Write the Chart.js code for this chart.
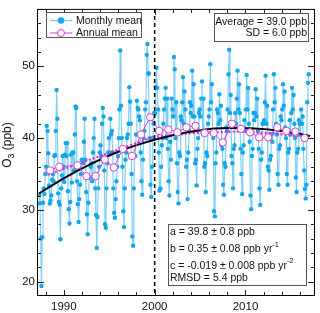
<!DOCTYPE html>
<html>
<head>
<meta charset="utf-8">
<script src="https://cdn.jsdelivr.net/npm/chart.js@4/dist/chart.umd.min.js"></script>
<style>
html, body { margin: 0; padding: 0; background: #fff; }
#grafico { display: block; }
</style>
</head>
<body>
<canvas id="grafico" width="320" height="313"></canvas>
<script>
// Medias mensuales de O3 (ppb), desde abril de 1987 hasta diciembre de 2016
const o3Mensual = [
    /*1987*/ 32.1, 30.9, 26.0, 19.4, 26.2, 31.0, 33.0, 32.2, 35.0,
    /*1988*/ 36.0, 41.7, 41.0, 37.9, 33.4, 30.9, 31.3, 32.0, 34.2, 35.0, 34.0, 37.5,
    /*1989*/ 37.6, 41.0, 46.7, 42.7, 32.3, 31.1, 30.7, 25.9, 33.0, 34.8, 37.5, 36.0,
    /*1990*/ 33.9, 37.7, 39.3, 37.5, 39.3, 32.6, 30.1, 28.1, 31.1, 37.7, 33.8, 38.0,
    /*1991*/ 38.0, 35.5, 40.5, 44.4, 44.2, 34.0, 30.8, 28.3, 31.5, 33.5, 35.0, 37.0,
    /*1992*/ 37.0, 36.5, 39.5, 42.7, 37.0, 32.5, 29.4, 26.6, 31.0, 34.5, 34.5, 36.0,
    /*1993*/ 36.5, 34.0, 38.0, 40.0, 42.7, 33.0, 29.3, 24.7, 29.0, 33.0, 36.0, 38.0,
    /*1994*/ 39.0, 37.5, 42.0, 44.2, 43.0, 35.5, 28.0, 27.5, 33.0, 36.5, 38.0, 40.0,
    /*1995*/ 38.0, 42.7, 40.5, 41.0, 38.0, 33.0, 29.6, 28.9, 31.5, 34.0, 36.0, 37.5,
    /*1996*/ 40.0, 44.0, 52.2, 44.5, 40.0, 36.0, 29.8, 27.6, 33.0, 37.0, 38.0, 40.0,
    /*1997*/ 40.5, 42.0, 47.1, 45.1, 42.0, 35.0, 26.3, 25.0, 33.0, 37.5, 37.5, 40.5,
    /*1998*/ 45.2, 44.2, 44.0, 43.0, 42.5, 38.0, 34.0, 32.1, 37.0, 40.0, 41.0, 44.0,
    /*1999*/ 45.0, 51.6, 53.1, 49.0, 49.0, 40.0, 33.5, 31.8, 36.0, 40.0, 42.0, 43.5,
    /*2000*/ 43.4, 47.1, 49.8, 47.0, 44.0, 38.0, 32.7, 33.0, 36.0, 39.0, 40.0, 42.0,
    /*2001*/ 44.0, 45.5, 47.0, 40.0, 45.5, 38.5, 34.0, 32.0, 39.5, 37.0, 45.5, 44.0,
    /*2002*/ 43.0, 51.3, 49.6, 40.0, 45.0, 36.5, 32.5, 30.9, 38.0, 37.5, 43.0, 42.5,
    /*2003*/ 45.0, 48.5, 42.0, 46.5, 44.0, 36.0, 37.0, 31.5, 38.0, 41.0, 45.0, 43.5,
    /*2004*/ 44.5, 49.4, 43.0, 47.5, 43.0, 36.5, 37.0, 33.4, 38.5, 40.0, 43.5, 44.0,
    /*2005*/ 43.0, 45.5, 47.9, 41.0, 45.5, 36.0, 36.5, 32.5, 38.0, 37.5, 42.0, 43.0,
    /*2006*/ 44.0, 50.3, 45.0, 47.5, 41.0, 40.0, 29.8, 29.1, 36.5, 38.0, 44.0, 43.5,
    /*2007*/ 42.0, 46.1, 42.5, 44.5, 39.0, 38.5, 33.5, 32.1, 36.5, 36.0, 41.5, 41.0,
    /*2008*/ 44.0, 48.9, 52.3, 43.5, 46.0, 37.5, 36.5, 33.0, 38.5, 39.0, 43.5, 42.0,
    /*2009*/ 45.5, 49.4, 44.0, 47.5, 43.5, 38.5, 35.0, 32.2, 38.0, 39.0, 42.5, 41.0,
    /*2010*/ 44.0, 48.8, 44.0, 47.0, 42.0, 39.5, 32.0, 30.1, 37.5, 38.5, 43.5, 42.5,
    /*2011*/ 43.5, 46.8, 43.0, 45.5, 41.0, 38.5, 33.0, 30.7, 37.0, 38.0, 42.0, 42.0,
    /*2012*/ 42.5, 45.0, 48.7, 42.0, 44.5, 36.0, 35.5, 32.8, 37.0, 37.5, 40.5, 39.5,
    /*2013*/ 44.0, 48.9, 45.0, 47.0, 42.0, 40.5, 35.0, 33.5, 38.5, 39.0, 43.0, 42.5,
    /*2014*/ 44.0, 47.5, 44.5, 46.5, 41.5, 40.0, 35.0, 33.5, 38.0, 38.5, 42.5, 40.5,
    /*2015*/ 43.5, 47.0, 44.0, 46.0, 42.0, 40.0, 34.5, 32.5, 38.0, 38.5, 42.5, 42.0,
    /*2016*/ 40.5, 44.0, 42.0, 43.0, 38.5, 35.5, 32.9, 31.6, 33.5, 45.0, 47.7, 48.9
];
const anioInicio = 1987;
const mesInicio = 4;  // abril

// Medias anuales (1990 no aparece en la figura)
const aniosAnual = [1988, 1989, 1991, 1992, 1993, 1994, 1995, 1996, 1997, 1998, 1999, 2000,
    2001, 2002, 2003, 2004, 2005, 2006, 2007, 2008, 2009, 2010, 2011, 2012, 2013, 2014, 2015, 2016];
const o3Anual = [35.5, 36.0, 36.2, 34.7, 34.7, 37.0, 35.9, 38.5, 37.5, 40.5, 42.9, 41.0,
    41.2, 40.8, 41.5, 41.7, 40.7, 40.7, 39.4, 42.0, 41.3, 40.8, 40.1, 40.1, 41.5, 41.0, 40.9, 40.0];

// Curva de ajuste cuadratico (linea negra)
const aniosAjuste = [1987.3, 1990, 1993, 1996, 1999, 2002, 2005, 2008, 2011, 2014, 2017.1];
const o3Ajuste = [32.3, 34.4, 36.4, 38.1, 39.4, 40.4, 41.1, 41.4, 41.35, 41.0, 40.3];

// Linea punteada magenta
const aniosSuave = [1988.2, 2000, 2004, 2009, 2013, 2016.8];
const o3Suave = [34.9, 40.2, 40.7, 40.9, 40.7, 40.1];

// Ejes
const ticksX = [1990, 2000, 2010];
const ticksY = [20, 30, 40, 50];
const lineaVertical = 2000;

const FUENTE = '"Liberation Sans", Arial, Helvetica, sans-serif';
const AZUL = '#15a6ea';
const AZUL_LINEA = 'rgba(40, 175, 240, 0.6)';
const MAGENTA = '#d63fd0';

// Puntos {x, y} a partir de los arrays
const puntosMensual = o3Mensual.map((v, i) => ({ x: anioInicio + (mesInicio - 1 + i + 0.5) / 12, y: v }));
const puntosAnual = aniosAnual.map((a, i) => ({ x: a + 0.5, y: o3Anual[i] }));
const puntosAjuste = aniosAjuste.map((a, i) => ({ x: a, y: o3Ajuste[i] }));
const puntosSuave = aniosSuave.map((a, i) => ({ x: a, y: o3Suave[i] }));

// Texto con sub/superindices: partes = [[texto, tipo], ...]
function textoPartes(ctx, partes, x, y, tam) {
    let cx = x;
    partes.forEach(([t, tipo]) => {
        if (tipo === 'sup') {
            ctx.font = (tam * 0.7) + 'px ' + FUENTE;
            ctx.fillText(t, cx, y - tam * 0.45);
        } else if (tipo === 'sub') {
            ctx.font = (tam * 0.72) + 'px ' + FUENTE;
            ctx.fillText(t, cx, y + tam * 0.3);
        } else {
            ctx.font = tam + 'px ' + FUENTE;
            ctx.fillText(t, cx, y);
        }
        cx += ctx.measureText(t).width;
    });
}

function anchoPartes(ctx, partes, tam) {
    let w = 0;
    partes.forEach(([t, tipo]) => {
        const f = tipo === 'sup' ? tam * 0.7 : (tipo === 'sub' ? tam * 0.72 : tam);
        ctx.font = f + 'px ' + FUENTE;
        w += ctx.measureText(t).width;
    });
    return w;
}

// Marcas hacia dentro, marco, linea discontinua, leyenda y cuadros de texto
const decoraciones = {
    id: 'decoraciones',
    afterDatasetsDraw(chart) {
        const { ctx, chartArea: a, scales: { x, y } } = chart;
        ctx.save();

        // linea vertical discontinua
        const xv = x.getPixelForValue(lineaVertical);
        ctx.strokeStyle = '#000';
        ctx.lineWidth = 1.5;
        ctx.setLineDash([4, 3]);
        ctx.beginPath();
        ctx.moveTo(xv, a.top);
        ctx.lineTo(xv, a.bottom);
        ctx.stroke();
        ctx.setLineDash([]);

        // marcas del eje x (cada 2 anios)
        ctx.lineWidth = 1;
        ctx.strokeStyle = '#222';
        for (let v = 1988; v <= 2016; v += 2) {
            const px = Math.round(x.getPixelForValue(v)) + 0.5;
            const largo = ticksX.includes(v) ? 6 : 4;
            ctx.beginPath();
            ctx.moveTo(px, a.bottom); ctx.lineTo(px, a.bottom - largo);
            ctx.moveTo(px, a.top); ctx.lineTo(px, a.top + largo);
            ctx.stroke();
        }
        // marcas del eje y (cada 2 ppb)
        for (let v = 20; v <= 56; v += 2) {
            const py = Math.round(y.getPixelForValue(v)) + 0.5;
            const largo = ticksY.includes(v) ? 7 : 4;
            ctx.beginPath();
            ctx.moveTo(a.left, py); ctx.lineTo(a.left + largo, py);
            ctx.moveTo(a.right, py); ctx.lineTo(a.right - largo, py);
            ctx.stroke();
        }
        // marco
        ctx.strokeStyle = '#000';
        ctx.strokeRect(a.left + 0.5, a.top + 0.5, a.right - a.left - 1, a.bottom - a.top - 1);

        ctx.textBaseline = 'middle';
        ctx.fillStyle = '#111';

        // leyenda
        ctx.fillStyle = '#fff';
        ctx.fillRect(46.5, 12.5, 95, 25);
        ctx.strokeStyle = '#555';
        ctx.strokeRect(46.5, 12.5, 95, 25);
        ctx.strokeStyle = AZUL_LINEA;
        ctx.lineWidth = 1.5;
        ctx.beginPath(); ctx.moveTo(50, 20.5); ctx.lineTo(72, 20.5); ctx.stroke();
        ctx.fillStyle = AZUL;
        ctx.beginPath(); ctx.arc(61, 20.5, 3.3, 0, Math.PI * 2); ctx.fill();
        ctx.strokeStyle = MAGENTA;
        ctx.lineWidth = 1;
        ctx.beginPath(); ctx.moveTo(50, 33); ctx.lineTo(72, 33); ctx.stroke();
        ctx.fillStyle = '#fff';
        ctx.beginPath(); ctx.arc(61, 33, 3.5, 0, Math.PI * 2); ctx.fill(); ctx.stroke();
        ctx.fillStyle = '#111';
        ctx.font = '10.5px ' + FUENTE;
        ctx.textAlign = 'left';
        ctx.fillText('Monthly mean', 76, 21);
        ctx.fillText('Annual mean', 76, 33.5);

        // cuadro media y desviacion
        ctx.fillStyle = '#fff';
        ctx.fillRect(214.5, 13.5, 94, 28);
        ctx.strokeStyle = '#555';
        ctx.strokeRect(214.5, 13.5, 94, 28);
        ctx.fillStyle = '#111';
        ctx.textAlign = 'right';
        ctx.fillText('Average = 39.0 ppb', 307, 22);
        ctx.fillText('SD = 6.0 ppb', 307, 33.5);

        // cuadro de coeficientes
        ctx.fillStyle = '#fff';
        ctx.fillRect(168.5, 224.5, 138, 61);
        ctx.strokeStyle = '#555';
        ctx.strokeRect(168.5, 224.5, 138, 61);
        ctx.fillStyle = '#111';
        ctx.textAlign = 'left';
        textoPartes(ctx, [['a = 39.8 \u00b1 0.8 ppb', 'n']], 170, 232, 10.5);
        textoPartes(ctx, [['b = 0.35 \u00b1 0.08 ppb yr', 'n'], ['-1', 'sup']], 170, 249.5, 10.5);
        textoPartes(ctx, [['c = -0.019 \u00b1 0.008 ppb yr', 'n'], ['-2', 'sup']], 170, 266, 10.5);
        textoPartes(ctx, [['RMSD = 5.4 ppb', 'n']], 170, 278, 10.5);

        // titulo del eje y: O3 (ppb)
        const partesTitulo = [['O', 'n'], ['3', 'sub'], [' (ppb)', 'n']];
        ctx.translate(8, 145);
        ctx.rotate(-Math.PI / 2);
        const w = anchoPartes(ctx, partesTitulo, 12);
        ctx.fillStyle = '#111';
        textoPartes(ctx, partesTitulo, -w / 2, 0, 12);

        ctx.restore();
    }
};

Chart.defaults.font.family = FUENTE;
Chart.defaults.font.size = 11.5;
Chart.defaults.color = '#111';

const ctx = document.getElementById('grafico').getContext('2d');
new Chart(ctx, {
    type: 'line',
    data: {
        datasets: [
            {
                label: 'Annual mean',
                data: puntosAnual,
                borderColor: MAGENTA,
                borderWidth: 1,
                pointRadius: 3.7,
                pointBackgroundColor: '#fff',
                pointBorderColor: MAGENTA,
                pointBorderWidth: 1,
                spanGaps: true,
                order: 0
            },
            {
                label: 'Ajuste',
                data: puntosAjuste,
                borderColor: '#000',
                borderWidth: 2,
                pointRadius: 0,
                cubicInterpolationMode: 'monotone',
                order: 1
            },
            {
                label: 'Suavizado',
                data: puntosSuave,
                borderColor: '#ee22dd',
                borderWidth: 2.2,
                borderDash: [2, 2],
                pointRadius: 0,
                order: 2
            },
            {
                label: 'Monthly mean',
                data: puntosMensual,
                borderColor: AZUL_LINEA,
                borderWidth: 1.2,
                pointRadius: 2.2,
                pointBackgroundColor: AZUL,
                pointBorderWidth: 0,
                order: 3
            }
        ]
    },
    options: {
        responsive: false,
        animation: false,
        devicePixelRatio: 1,
        layout: { padding: { top: 3, right: 4, left: 0, bottom: 0 } },
        plugins: {
            legend: { display: false },
            tooltip: { enabled: false }
        },
        scales: {
            x: {
                type: 'linear',
                min: 1987.05,
                max: 2017.65,
                grid: { display: false, drawTicks: false },
                border: { display: false },
                ticks: { padding: 4, maxRotation: 0, font: { size: 11.5 }, callback: v => String(v) },
                afterBuildTicks: s => { s.ticks = ticksX.map(v => ({ value: v })); },
                afterFit: s => { s.height = 17; }
            },
            y: {
                min: 18,
                max: 58,
                grid: { display: false, drawTicks: false },
                border: { display: false },
                ticks: { padding: 2, font: { size: 11.5 }, callback: v => String(v) },
                afterBuildTicks: s => { s.ticks = ticksY.map(v => ({ value: v })); },
                afterFit: s => { s.width = 37; }
            }
        }
    },
    plugins: [decoraciones]
});
</script>
</body>
</html>
